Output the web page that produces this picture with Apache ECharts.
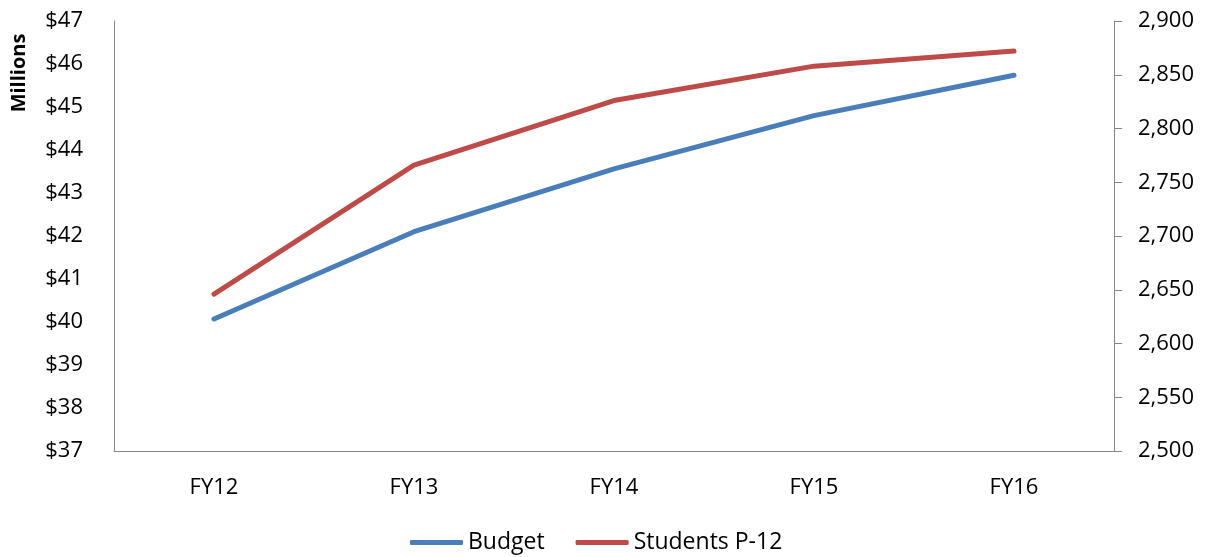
<!DOCTYPE html>
<html>
<head>
<meta charset="utf-8">
<script src="https://cdn.jsdelivr.net/npm/echarts@6/dist/echarts.min.js"></script>
<style>
  html, body { margin: 0; padding: 0; background: #fff; }
  #chart { width: 1210px; height: 557px; }
</style>
</head>
<body>
<div id="chart"></div>
<script>
// Fiscal years on the category axis
const fiscalYears = ['FY12', 'FY13', 'FY14', 'FY15', 'FY16'];
// Budget in millions of dollars (left axis)
const budgetMillions = [40.07, 42.1, 43.56, 44.8, 45.74];
// Enrolled students P-12 (right axis)
const studentsP12 = [2646, 2766, 2826, 2858, 2872];

const FONT = '"Open Sans", "Liberation Sans", sans-serif';
const AXIS_GRAY = '#868686';

const chart = echarts.init(document.getElementById('chart'), null, { renderer: 'canvas' });

chart.setOption({
  animation: false,
  backgroundColor: '#ffffff',
  textStyle: { fontFamily: FONT, color: '#000' },
  grid: { left: 114, right: 96, top: 21, bottom: 106, containLabel: false },
  legend: {
    bottom: 3,
    left: 410,
    padding: 0,
    itemWidth: 53,
    itemHeight: 5,
    itemGap: 31,
    icon: 'roundRect',
    textStyle: { fontFamily: FONT, fontSize: 23, color: '#000', padding: [0, 0, 0, 0] },
    data: ['Budget', 'Students P-12']
  },
  graphic: [{
    type: 'text',
    x: 19,
    y: 73,
    rotation: Math.PI / 2,
    style: {
      text: 'Millions',
      font: 'bold 20px ' + FONT,
      fill: '#000',
      align: 'center',
      verticalAlign: 'middle'
    }
  }],
  xAxis: {
    type: 'category',
    data: fiscalYears,
    boundaryGap: true,
    axisLine: { lineStyle: { color: AXIS_GRAY, width: 1 } },
    axisTick: { show: false },
    axisLabel: { fontFamily: FONT, fontSize: 22, color: '#000', margin: 26 },
    splitLine: { show: false }
  },
  yAxis: [{
    type: 'value',
    position: 'left',
    min: 37,
    max: 47,
    interval: 1,
    axisLine: { show: true, lineStyle: { color: AXIS_GRAY, width: 1 } },
    axisTick: { show: false },
    splitLine: { show: false },
    axisLabel: {
      fontFamily: FONT, fontSize: 22, color: '#000', margin: 31,
      formatter: v => '$' + v
    }
  }, {
    type: 'value',
    position: 'right',
    min: 2500,
    max: 2900,
    interval: 50,
    axisLine: { show: true, lineStyle: { color: AXIS_GRAY, width: 1 } },
    axisTick: { show: true, inside: false, length: 8, lineStyle: { color: AXIS_GRAY, width: 1 } },
    splitLine: { show: false },
    axisLabel: {
      fontFamily: FONT, fontSize: 22, color: '#000', margin: 24,
      formatter: v => v.toLocaleString('en-US')
    }
  }],
  series: [{
    name: 'Budget',
    type: 'line',
    yAxisIndex: 0,
    data: budgetMillions,
    symbol: 'none',
    lineStyle: { color: '#4A7EBB', width: 5, cap: 'round', join: 'round' },
    itemStyle: { color: '#4A7EBB' }
  }, {
    name: 'Students P-12',
    type: 'line',
    yAxisIndex: 1,
    data: studentsP12,
    symbol: 'none',
    lineStyle: { color: '#BE4B48', width: 5, cap: 'round', join: 'round' },
    itemStyle: { color: '#BE4B48' }
  }]
});
</script>
</body>
</html>
